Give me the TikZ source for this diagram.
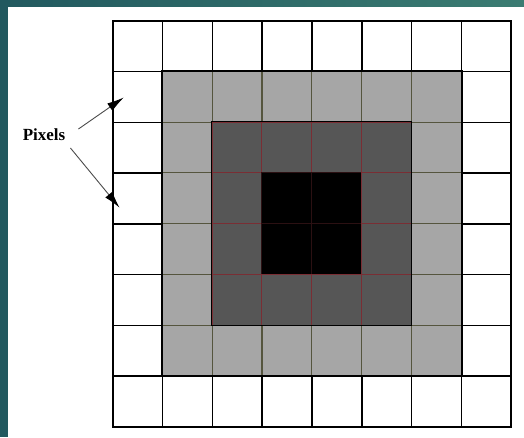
\documentclass[tikz,border=0pt]{standalone}
\usepackage{fontspec}
\setmainfont{Liberation Serif}
\usepackage{tikz}
\usetikzlibrary{arrows.meta, positioning}

\definecolor{tealbg}{HTML}{22595F}
\definecolor{tealright}{HTML}{3B7C72}
\definecolor{ringgray}{HTML}{A6A6A6}
\definecolor{ringdark}{HTML}{565656}
\definecolor{linegray}{HTML}{55553E}
\definecolor{linered}{HTML}{7A2E34}

\begin{document}
\begin{tikzpicture}[
    x=1pt, y=-1pt,
    cell/.style={rectangle, inner sep=0pt, minimum width=49.8pt, minimum height=50.75pt, anchor=north west},
    white cell/.style={cell, fill=white, draw=black, line width=1.6pt},
    gray cell/.style={cell, fill=ringgray, draw=linegray, line width=1.2pt},
    dark cell/.style={cell, fill=ringdark, draw=linered, line width=1pt},
    black cell/.style={cell, fill=black, draw=linered!35!black, line width=1pt},
    pointer/.style={-{Latex[length=17pt,width=9pt,black]}, draw=black!70, line width=0.9pt, shorten >=-1pt},
    every node/.style={font=\fontsize{17}{20}\selectfont\bfseries}
]
\useasboundingbox (0,0) rectangle (524,437);

% background
\fill[white] (0,0) rectangle (524,437);
\fill[left color=tealbg, right color=tealright] (0,0) rectangle (524,6);
\fill[tealbg] (0,0) rectangle (8,437);

% grid of pixels
\foreach \i in {0,...,7} {
  \foreach \j in {0,...,7} {
    \pgfmathtruncatemacro{\ring}{min(min(\i,\j),min(7-\i,7-\j))}
    \ifcase\ring
      \def\kind{white cell}\or
      \def\kind{gray cell}\or
      \def\kind{dark cell}\else
      \def\kind{black cell}\fi
    \node[\kind] (c-\i-\j) at ({112+49.8*\i},{20+50.75*\j}) {};
  }
}

% ring outlines
\draw[black, line width=1.6pt] (c-1-1.north west) rectangle (c-6-6.south east);
\draw[black, line width=1.3pt] (c-2-2.north west) rectangle (c-5-5.south east);

% label
\node[inner sep=2pt] (pix) at (44,135) {Pixels};
\coordinate (tip1) at (123,98);
\coordinate (tip2) at (119,207);

\draw[pointer] ([xshift=11pt, yshift=6pt]pix.east) -- (tip1);
\draw[pointer] ([xshift=3pt, yshift=-13pt]pix.east) -- (tip2);

\end{tikzpicture}
\end{document}
